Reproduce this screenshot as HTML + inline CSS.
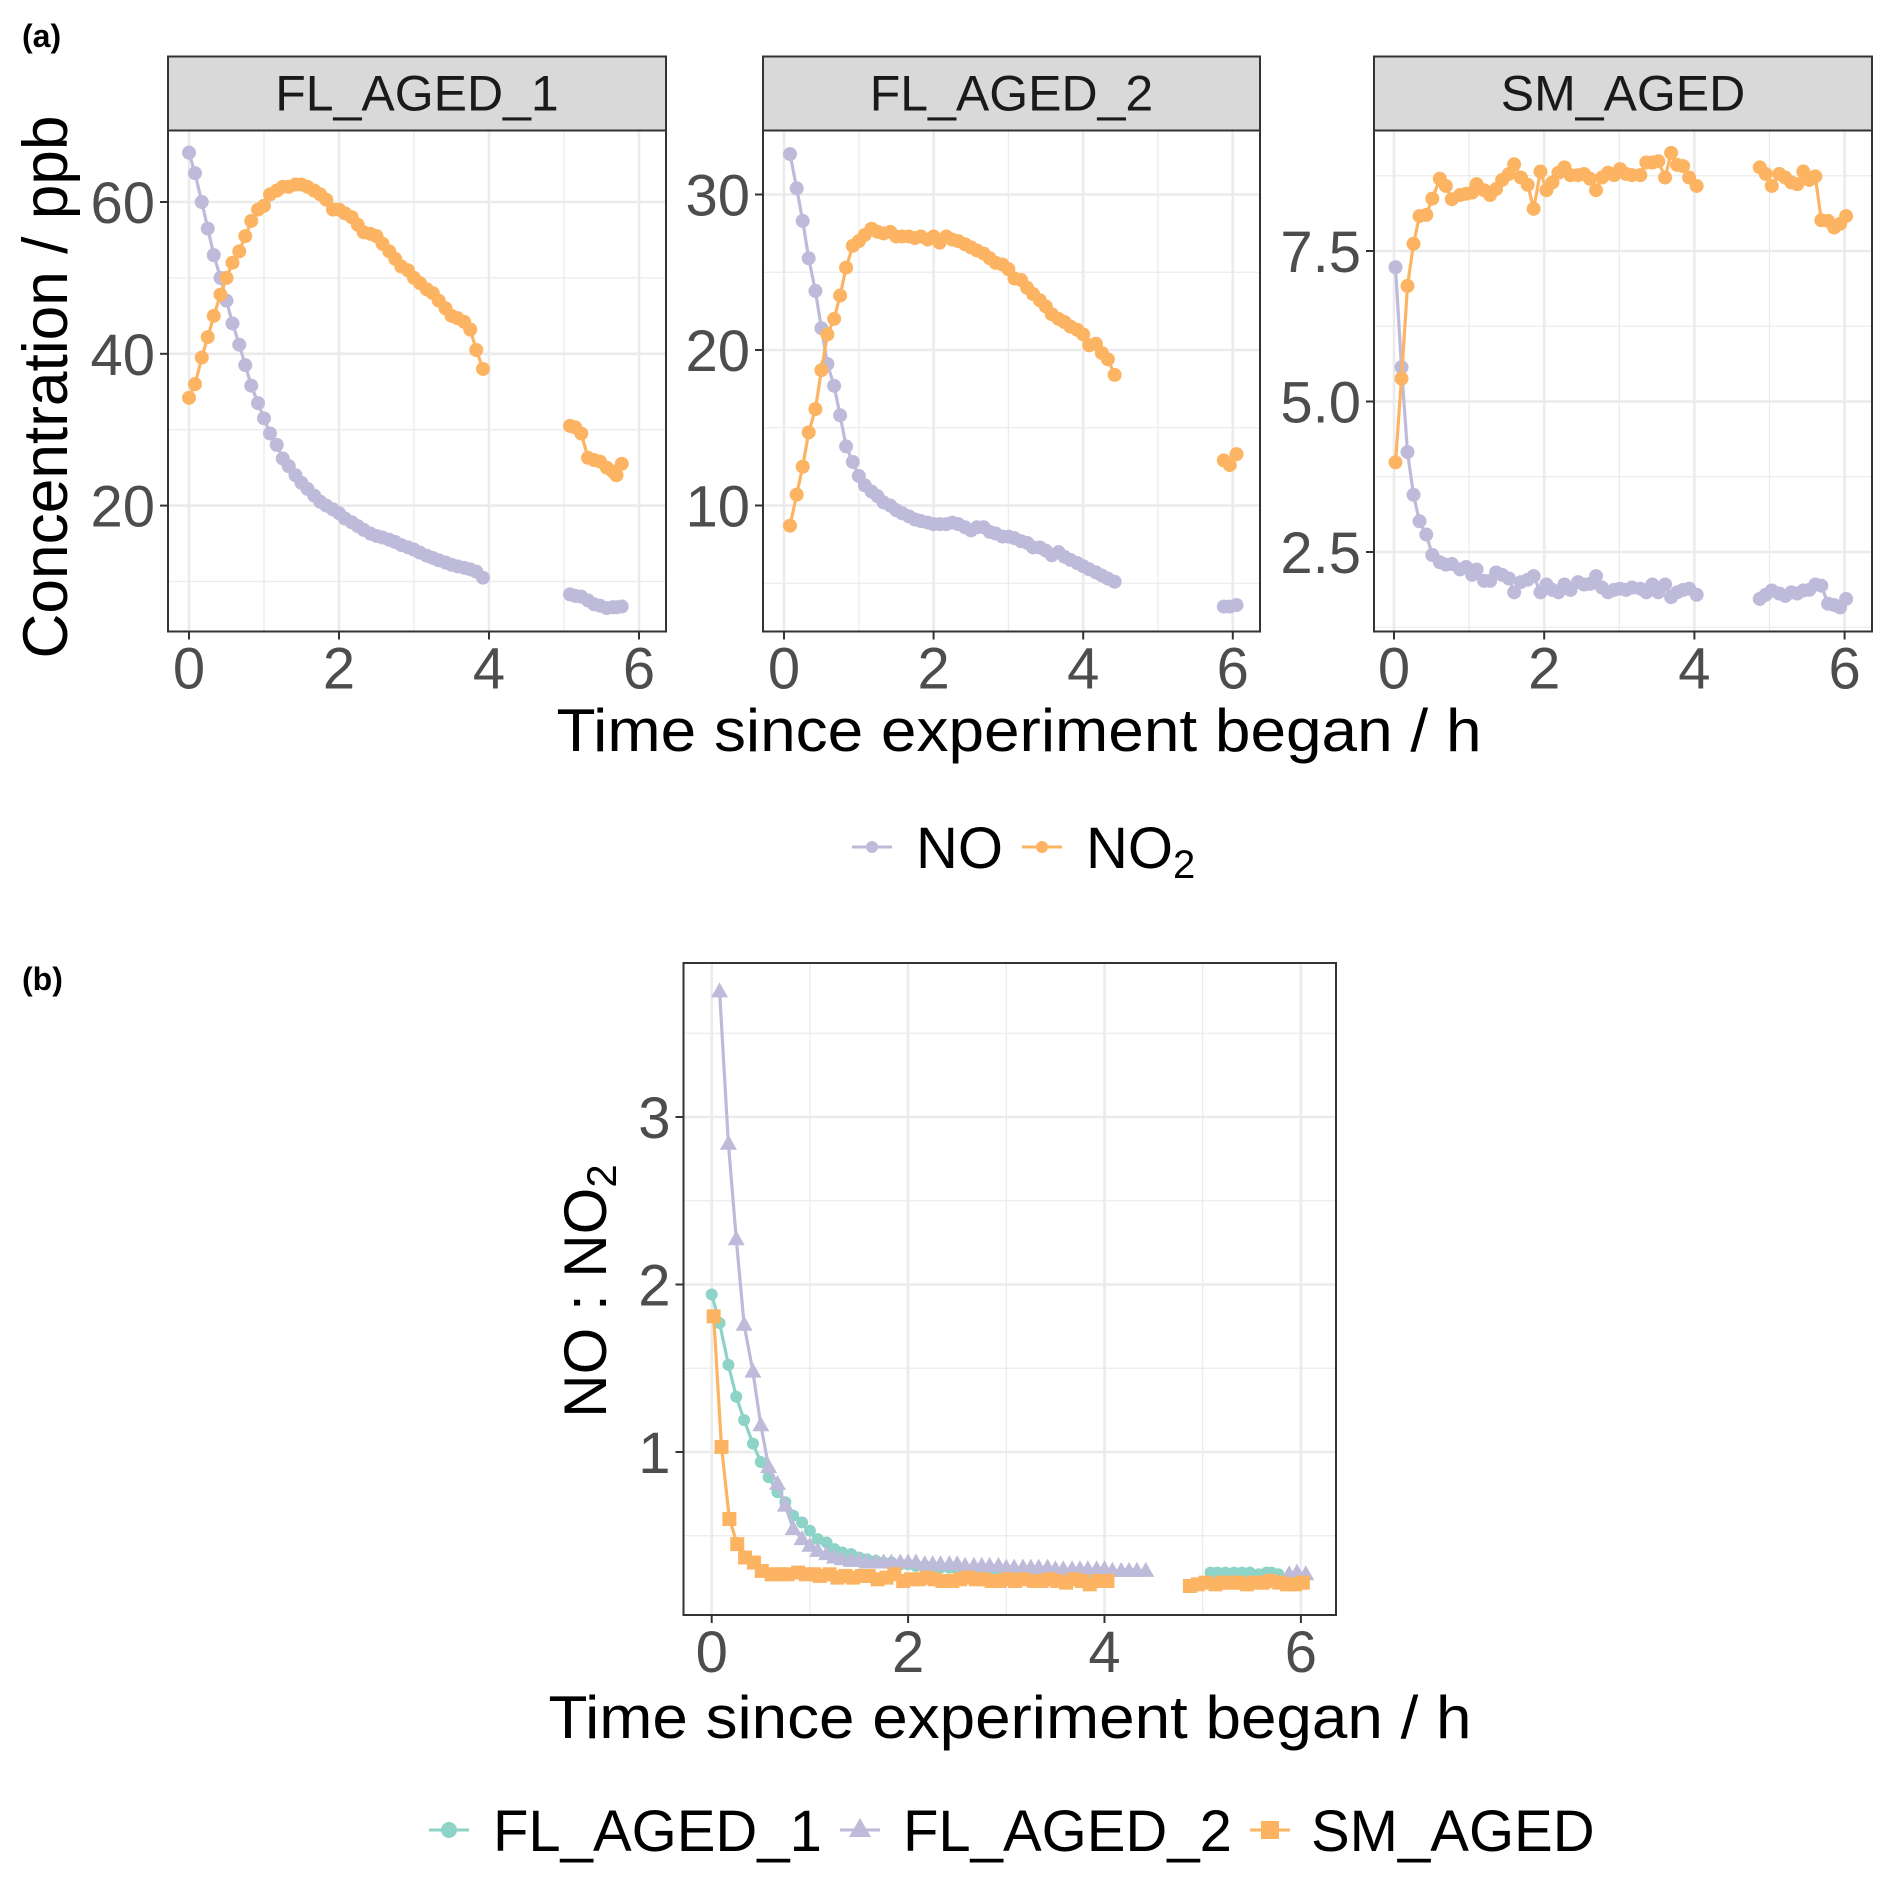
<!DOCTYPE html>
<html><head><meta charset="utf-8"><style>
html,body{margin:0;padding:0;background:#fff;}
svg{display:block;font-family:"Liberation Sans",Arial,sans-serif;}
</style></head><body>
<svg id="fig" width="1892" height="1881" viewBox="0 0 1892 1881" xmlns="http://www.w3.org/2000/svg">
<rect x="0" y="0" width="1892" height="1881" fill="#fff"/>
<text x="22" y="47" font-size="32" font-weight="bold">(a)</text>
<text x="22" y="990" font-size="32" font-weight="bold">(b)</text>
<g id="layer"></g>
<text transform="translate(67,387) rotate(-90)" text-anchor="middle" font-size="63" textLength="543" lengthAdjust="spacingAndGlyphs">Concentration / ppb</text>
<text x="1019" y="751" text-anchor="middle" font-size="60" textLength="925" lengthAdjust="spacingAndGlyphs">Time since experiment began / h</text>
<text x="1010" y="1738" text-anchor="middle" font-size="60" textLength="923" lengthAdjust="spacingAndGlyphs">Time since experiment began / h</text>
<text transform="translate(606,1291) rotate(-90)" text-anchor="middle" font-size="60">NO : NO<tspan font-size="42" dy="10">2</tspan></text>
<g>
<g>
<line x1="852" y1="847" x2="892" y2="847" stroke="#BEBADA" stroke-width="3"/><circle cx="872" cy="847" r="6" fill="#BEBADA"/>
<text x="916" y="868" font-size="58">NO</text></g>
<g>
<line x1="1022" y1="847" x2="1062" y2="847" stroke="#FDB462" stroke-width="3"/><circle cx="1042" cy="847" r="6" fill="#FDB462"/>
<text x="1086" y="868" font-size="58">NO<tspan font-size="40" dy="10">2</tspan></text></g>
</g>
<g>
<g>
<line x1="429" y1="1830" x2="469" y2="1830" stroke="#8DD3C7" stroke-width="3"/><circle cx="449" cy="1830" r="8" fill="#8DD3C7"/>
<text x="493" y="1851" font-size="58">FL_AGED_1</text></g>
<g>
<line x1="840" y1="1830" x2="880" y2="1830" stroke="#BEBADA" stroke-width="3"/><polygon points="860,1818 871,1837 849,1837" fill="#BEBADA"/>
<text x="903" y="1851" font-size="58">FL_AGED_2</text></g>
<g>
<line x1="1250" y1="1830" x2="1290" y2="1830" stroke="#FDB462" stroke-width="3"/><rect x="1261" y="1821" width="18" height="18" fill="#FDB462"/>
<text x="1311" y="1851" font-size="58">SM_AGED</text></g>
</g>
</svg>
<script>
// ---- data ----
const tFL1a = [0.00,0.08,0.17,0.25,0.33,0.42,0.50,0.58,0.67,0.75,0.83,0.92,1.00,1.08,1.17,1.25,1.33,1.42,1.50,1.58,1.67,1.75,1.83,1.92,2.00,2.08,2.17,2.25,2.33,2.42,2.50,2.58,2.67,2.75,2.83,2.92,3.00,3.08,3.17,3.25,3.33,3.42,3.50,3.58,3.67,3.75,3.83,3.92];
const tFL1b = [5.08,5.15,5.23,5.32,5.40,5.48,5.57,5.65,5.70,5.77];
const noFL1a = [66.5,63.8,60,56.5,53,50,47,44,41.2,38.5,35.8,33.5,31.5,29.5,28,26.2,25.2,24,23,22.2,21.3,20.5,20,19.5,19,18.3,17.8,17.3,16.8,16.3,16,15.8,15.5,15.2,14.8,14.5,14.2,13.8,13.4,13.1,12.8,12.5,12.2,12,11.8,11.6,11.3,10.5];
const no2FL1a = [34.2,36,39.5,42.2,45,47.8,50,52,53.5,55.5,57.5,59,59.5,61,61.5,62,62,62.3,62.3,62,61.5,61,60.3,59,59,58.5,58,57,56,55.8,55.5,54.5,53.5,52.5,51.5,51,50,49.3,48.5,48,47,46,45,44.7,44.2,43.2,40.5,38];
const noFL1b = [8.3,8.1,8,7.5,7,6.8,6.5,6.6,6.6,6.7];
const no2FL1b = [30.5,30.3,29.5,26.3,26,25.8,25,24.5,24,25.5];
const tFL2a = [0.08,0.17,0.25,0.33,0.42,0.50,0.58,0.67,0.75,0.83,0.92,1.00,1.08,1.17,1.25,1.33,1.42,1.50,1.58,1.67,1.75,1.83,1.92,2.00,2.08,2.17,2.25,2.33,2.42,2.50,2.58,2.67,2.75,2.83,2.92,3.00,3.08,3.17,3.25,3.33,3.42,3.50,3.58,3.67,3.75,3.83,3.92,4.00,4.08,4.17,4.25,4.33,4.42];
const tFL2b = [5.88,5.96,6.05];
const noFL2a = [32.6,30.4,28.3,25.9,23.8,21.4,19.1,17.7,15.8,13.8,12.8,11.9,11.3,10.9,10.6,10.2,10.0,9.7,9.5,9.3,9.1,9.0,8.9,8.8,8.8,8.8,8.9,8.8,8.6,8.4,8.6,8.6,8.3,8.2,8.0,8.0,7.9,7.7,7.6,7.3,7.3,7.1,6.8,7.0,6.7,6.5,6.3,6.1,5.9,5.7,5.5,5.3,5.1];
const no2FL2a = [8.7,10.7,12.5,14.7,16.2,18.7,21.0,22.0,23.5,25.3,26.7,27.0,27.4,27.8,27.6,27.5,27.6,27.3,27.3,27.3,27.2,27.3,27.1,27.3,26.9,27.3,27.1,27.0,26.8,26.6,26.4,26.2,25.9,25.6,25.5,25.2,24.6,24.5,24.0,23.6,23.2,22.8,22.3,22.0,21.8,21.5,21.3,21.0,20.3,20.4,19.8,19.4,18.4];
const noFL2b = [3.5,3.5,3.6];
const no2FL2b = [12.9,12.6,13.3];
const tSMa = [0.02,0.10,0.18,0.26,0.34,0.43,0.51,0.61,0.69,0.77,0.88,0.96,1.04,1.10,1.20,1.28,1.36,1.44,1.53,1.60,1.69,1.78,1.86,1.95,2.03,2.11,2.19,2.27,2.35,2.45,2.53,2.61,2.69,2.77,2.85,2.93,3.01,3.09,3.17,3.28,3.36,3.44,3.52,3.61,3.69,3.77,3.85,3.93,4.03];
const tSMb = [4.87,4.95,5.03,5.13,5.21,5.29,5.37,5.45,5.53,5.61,5.69,5.78,5.86,5.94,6.02];
const noSMa = [7.23,5.57,4.16,3.45,3.01,2.79,2.45,2.33,2.29,2.3,2.21,2.25,2.12,2.21,2.02,2.02,2.16,2.12,2.06,1.83,2.0,2.04,2.1,1.83,1.96,1.87,1.83,1.96,1.87,2.0,1.96,1.97,2.1,1.91,1.83,1.87,1.89,1.87,1.91,1.89,1.83,1.96,1.83,1.96,1.75,1.83,1.87,1.89,1.79];
const no2SMa = [3.99,5.38,6.92,7.62,8.08,8.1,8.37,8.7,8.58,8.36,8.43,8.45,8.47,8.61,8.51,8.43,8.53,8.68,8.78,8.94,8.72,8.6,8.2,8.82,8.51,8.64,8.8,8.89,8.76,8.76,8.78,8.7,8.51,8.72,8.8,8.76,8.86,8.78,8.76,8.76,8.97,8.97,8.99,8.72,9.13,8.93,8.91,8.72,8.58];
const noSMb = [1.72,1.79,1.86,1.81,1.77,1.83,1.81,1.86,1.87,1.96,1.94,1.64,1.62,1.58,1.72];
const no2SMb = [8.89,8.78,8.58,8.78,8.72,8.64,8.61,8.82,8.68,8.74,8.01,8.0,7.89,7.95,8.08];
// ratio panel (b)
const ratioFL1a = [1.94,1.77,1.52,1.33,1.19,1.05,0.94,0.85,0.76,0.70,0.62,0.58,0.53,0.48,0.46,0.42,0.40,0.39,0.37,0.36,0.35,0.34,0.34,0.33,0.33,0.32,0.32,0.31,0.31,0.31,0.30,0.30,0.30,0.30,0.29,0.29,0.29,0.29,0.29,0.28,0.28,0.28,0.28,0.28,0.28,0.28,0.28,0.28];
const ratioFL1b = [0.28,0.28,0.28,0.28,0.28,0.28,0.27,0.28,0.28,0.27];
const ratioFL2a = [3.75,2.84,2.27,1.76,1.48,1.16,0.91,0.81,0.68,0.54,0.48,0.44,0.41,0.39,0.37,0.36,0.35,0.35,0.34,0.34,0.34,0.34,0.34,0.34,0.34,0.33,0.33,0.33,0.33,0.33,0.32,0.32,0.32,0.32,0.32,0.31,0.31,0.31,0.31,0.31,0.31,0.30,0.30,0.30,0.30,0.30,0.30,0.30,0.29,0.29,0.29,0.29,0.29];
const ratioFL2b = [0.27,0.28,0.27];
const ratioSMa = [1.81,1.03,0.60,0.45,0.37,0.34,0.29,0.27,0.27,0.27,0.28,0.27,0.27,0.26,0.27,0.25,0.26,0.25,0.26,0.26,0.24,0.25,0.27,0.23,0.24,0.24,0.25,0.24,0.23,0.23,0.24,0.25,0.24,0.24,0.23,0.23,0.24,0.23,0.24,0.23,0.23,0.24,0.23,0.22,0.24,0.23,0.21,0.23,0.23];
const ratioSMb = [0.20,0.21,0.22,0.21,0.22,0.22,0.22,0.21,0.22,0.22,0.23,0.22,0.21,0.21,0.22];
const xTicks = [0,2,4,6];
const xMinor = [1,3,5];
const yTicks1 = [20,40,60], yMinor1 = [10,30,50];
const yTicks2 = [10,20,30], yMinor2 = [5,15,25];
const yTicks3 = [2.5,5.0,7.5], yMinor3 = [1.25,3.75,6.25,8.75];
const yTicksB = [1,2,3], yMinorB = [0.5,1.5,2.5,3.5];

const NS = "http://www.w3.org/2000/svg";
const layer = document.getElementById('layer');
function mk(tag, attrs, parent){ const e=document.createElementNS(NS,tag); for(const k in attrs) e.setAttribute(k,attrs[k]); (parent||layer).appendChild(e); return e; }
const C_NO="#BEBADA", C_NO2="#FDB462", C_FL1="#8DD3C7";

function panel(p){
  const g = mk('g',{});
  
  
  const sx = v => p.x0 + v*p.kx;
  const sy = v => p.yRef - (v - p.vRef)*p.ky;
  const bg = mk('rect',{x:p.L,y:p.T,width:p.R-p.L,height:p.B-p.T,fill:'#fff'},g);
  
  
  p.yMinor.forEach(v=>{ const y=sy(v); if(y>p.T&&y<p.B){ const l=mk('line',{x1:p.L,x2:p.R,y1:y,y2:y,stroke:'#ebebeb','stroke-width':1.3},g);   }});
  xMinor.forEach(v=>{ const x=sx(v); const l=mk('line',{x1:x,x2:x,y1:p.T,y2:p.B,stroke:'#ebebeb','stroke-width':1.3},g);   });
  p.yTicks.forEach(v=>{ const y=sy(v); const l=mk('line',{x1:p.L,x2:p.R,y1:y,y2:y,stroke:'#ebebeb','stroke-width':2.6},g);   });
  xTicks.forEach(v=>{ const x=sx(v); const l=mk('line',{x1:x,x2:x,y1:p.T,y2:p.B,stroke:'#ebebeb','stroke-width':2.6},g);   });
  p.series.forEach(s=>{
    const sg = mk('g',{},g);
    
    
    const pts = s.t.map((t,i)=>sx(t).toFixed(1)+','+sy(s.v[i]).toFixed(1)).join(' ');
    const pl = mk('polyline',{points:pts,fill:'none',stroke:s.c,'stroke-width':3.2,'stroke-linejoin':'round'},sg);
    
    
    s.t.forEach((t,i)=>{
      const x=sx(t), y=sy(s.v[i]); let m;
      if(s.shape==='tri') m=mk('polygon',{points:`${x},${y-9} ${x+8.5},${y+6} ${x-8.5},${y+6}`,fill:s.c},sg);
      else if(s.shape==='sq') m=mk('rect',{x:x-7,y:y-7,width:14,height:14,fill:s.c},sg);
      else m=mk('circle',{cx:x,cy:y,r:s.r||7,fill:s.c},sg);
      
      
    });
  });
  const br = mk('rect',{x:p.L,y:p.T,width:p.R-p.L,height:p.B-p.T,fill:'none',stroke:'#333','stroke-width':2},g);
  
  
  if(p.strip){
    const st = mk('rect',{x:p.L,y:p.ST,width:p.R-p.L,height:p.T-p.ST,fill:'#d9d9d9',stroke:'#333','stroke-width':2},g);
    
    
    const tx = mk('text',{x:(p.L+p.R)/2,y:p.T-20,'text-anchor':'middle','font-size':50,fill:'#1a1a1a'},g);
    tx.textContent = p.strip;
    
    
  }
  xTicks.forEach(v=>{ const x=sx(v);
    const tk=mk('line',{x1:x,x2:x,y1:p.B,y2:p.B+8,stroke:'#333','stroke-width':2},g);
     
    const tl=mk('text',{x:x,y:p.B+57,'text-anchor':'middle','font-size':58,fill:'#4d4d4d'},g);
    tl.textContent=String(v);
     
  });
  p.yTicks.forEach(v=>{ const y=sy(v);
    const tk=mk('line',{x1:p.L-8,x2:p.L,y1:y,y2:y,stroke:'#333','stroke-width':2},g);
     
    const tl=mk('text',{x:p.L-13,y:y+21,'text-anchor':'end','font-size':58,fill:'#4d4d4d'},g);
    tl.textContent = p.fmt ? p.fmt(v) : String(v);
     
  });
}

panel({name:'panel-fl-aged-1',strip:'FL_AGED_1',L:168,R:666,ST:56.5,T:130.5,B:631.5,x0:189,kx:75,yRef:202,vRef:60,ky:7.59,yTicks:yTicks1,yMinor:yMinor1,
  series:[{name:'no-fl-aged-1-a',t:tFL1a,v:noFL1a,c:C_NO},{name:'no-fl-aged-1-b',t:tFL1b,v:noFL1b,c:C_NO},
          {name:'no2-fl-aged-1-a',t:tFL1a,v:no2FL1a,c:C_NO2},{name:'no2-fl-aged-1-b',t:tFL1b,v:no2FL1b,c:C_NO2}]});
panel({name:'panel-fl-aged-2',strip:'FL_AGED_2',L:763,R:1260,ST:56.5,T:130.5,B:631.5,x0:784,kx:74.8,yRef:194.5,vRef:30,ky:15.55,yTicks:yTicks2,yMinor:yMinor2,
  series:[{name:'no-fl-aged-2-a',t:tFL2a,v:noFL2a,c:C_NO},{name:'no-fl-aged-2-b',t:tFL2b,v:noFL2b,c:C_NO},
          {name:'no2-fl-aged-2-a',t:tFL2a,v:no2FL2a,c:C_NO2},{name:'no2-fl-aged-2-b',t:tFL2b,v:no2FL2b,c:C_NO2}]});
panel({name:'panel-sm-aged',strip:'SM_AGED',L:1374,R:1872,ST:56.5,T:130.5,B:631.5,x0:1394,kx:75.1,yRef:251,vRef:7.5,ky:60.2,yTicks:yTicks3,yMinor:yMinor3,fmt:v=>v.toFixed(1),
  series:[{name:'no-sm-aged-a',t:tSMa,v:noSMa,c:C_NO},{name:'no-sm-aged-b',t:tSMb,v:noSMb,c:C_NO},
          {name:'no2-sm-aged-a',t:tSMa,v:no2SMa,c:C_NO2},{name:'no2-sm-aged-b',t:tSMb,v:no2SMb,c:C_NO2}]});
panel({name:'panel-ratio',L:683.5,R:1336,T:963,B:1615,x0:711.7,kx:98.2,yRef:1452,vRef:1,ky:167.5,yTicks:yTicksB,yMinor:yMinorB,
  series:[{name:'ratio-fl-aged-1-a',t:tFL1a,v:ratioFL1a,c:C_FL1,r:6},{name:'ratio-fl-aged-1-b',t:tFL1b,v:ratioFL1b,c:C_FL1,r:6},
          {name:'ratio-fl-aged-2-a',t:tFL2a,v:ratioFL2a,c:C_NO,shape:'tri'},{name:'ratio-fl-aged-2-b',t:tFL2b,v:ratioFL2b,c:C_NO,shape:'tri'},
          {name:'ratio-sm-aged-a',t:tSMa,v:ratioSMa,c:C_NO2,shape:'sq'},{name:'ratio-sm-aged-b',t:tSMb,v:ratioSMb,c:C_NO2,shape:'sq'}]});
</script>
</body></html>
